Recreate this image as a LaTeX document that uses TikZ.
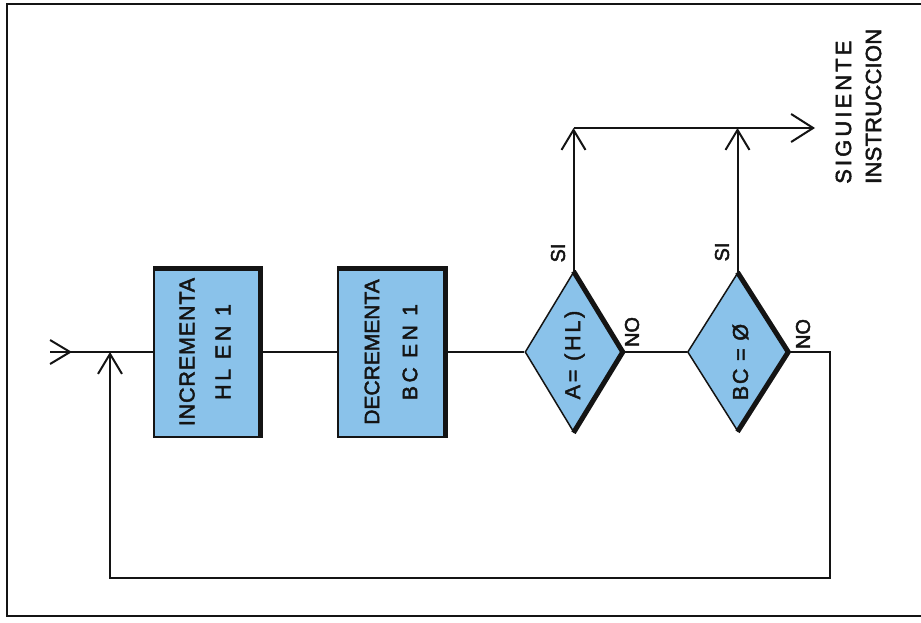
\documentclass[tikz,border=0pt]{standalone}
\usepackage{fontspec}
\setmainfont[FakeBold=2.2]{Liberation Sans}
\usetikzlibrary{shapes.geometric,arrows.meta,calc}
\definecolor{boxblue}{RGB}{138,194,234}
\definecolor{ink}{RGB}{20,20,20}
\begin{document}
\begin{tikzpicture}[x=1pt,y=-1pt,
  conn/.style={draw=ink,line width=2pt},
  arr/.style={conn,-{Straight Barb[length=20pt,width=24pt]}},
  procbox/.style={draw=ink,line width=1.5pt,fill=boxblue,minimum width=108pt,minimum height=170pt,inner sep=0pt},
  decbox/.style={diamond,draw=ink,line width=1.5pt,fill=boxblue,inner sep=0pt},
  boxtext/.style={rotate=90,align=center,text=ink,font=\fontsize{21.5pt}{36pt}\selectfont,inner sep=0pt},
  lbl/.style={rotate=90,text=ink,font=\fontsize{20pt}{22pt}\selectfont,inner sep=0pt},
  heavy/.style={draw=ink,line width=5pt,line join=round}
]
\useasboundingbox (0,0) rectangle (921,623);
\fill[white] (0,0) rectangle (921,623);
% frame
\draw[ink,line width=2.5pt] (921,4) -- (7,4) -- (7,616) -- (921,616);

% process boxes
\node[procbox] (r1) at (208,352) {};
\draw[heavy] ($(r1.north west)+(0,2)$) -- ($(r1.north east)+(-2,2)$) -- ($(r1.south east)+(-2,0)$);
\node[procbox,minimum width=109pt] (r2) at (392.5,352) {};
\draw[heavy] ($(r2.north west)+(0,2)$) -- ($(r2.north east)+(-2,2)$) -- ($(r2.south east)+(-2,0)$);

% decisions
\node[decbox,minimum width=97pt,minimum height=160pt] (d1) at (573.5,352) {};
\draw[heavy] (d1.north) -- (d1.east) -- (d1.south);
\node[decbox,minimum width=100pt,minimum height=158pt] (d2) at (737.5,352) {};
\draw[heavy] (d2.north) -- (d2.east) -- (d2.south);

% texts
\node[boxtext] (r1t) at (205,352) {{\addfontfeature{LetterSpace=4}INCREMENTA}\\{\addfontfeature{LetterSpace=17}HL EN 1}};
\node[boxtext,font=\fontsize{21pt}{38pt}\selectfont] (r2t) at (391,352) {DECREMENTA\\{\addfontfeature{LetterSpace=17}BC EN 1}};
\node[boxtext] (d1t) at (574.5,355) {\addfontfeature{LetterSpace=13}A= (HL)};
\node[boxtext] (d2t) at (740.5,362) {\addfontfeature{LetterSpace=8}BC = Ø};

\node[lbl] (si1) at (558,253) {SI};
\node[lbl] (no1) at (632,332) {NO};
\node[lbl] (si2) at (722,252) {SI};
\node[lbl] (no2) at (803,334) {NO};

\node[rotate=90,anchor=west,align=left,inner sep=0pt,text=ink,font=\fontsize{22pt}{30pt}\selectfont] (next) at (858.5,184)
  {{\addfontfeature{LetterSpace=14}SIGUIENTE}\\{\addfontfeature{LetterSpace=1}INSTRUCCION}};

% connectors
\coordinate (in) at (50,352);
\coordinate (inTip) at (72,352);
\draw[conn] (in) -- (r1.west);
\draw[arr] (in) -- (inTip);
\draw[conn] (r1.east) -- (r2.west);
\draw[conn] (r2.east) -- (d1.west);
\draw[conn] (d1.east) -- (d2.west);

\coordinate (lr) at (830,578);
\coordinate (ll) at (110,578);
\coordinate (j1) at (110,352);
\draw[arr] (d2.east) -| (lr) -- (ll) -- (j1);

\coordinate (t1) at (573.5,128);
\coordinate (t2) at (737.5,128);
\coordinate (out) at (815,128);
\draw[arr] (d1.north) -- (t1);
\draw[arr] (d2.north) -- (t2);
\draw[conn,-{Straight Barb[length=22pt,width=28pt]}] (t1) -- (out);
\end{tikzpicture}
\end{document}
